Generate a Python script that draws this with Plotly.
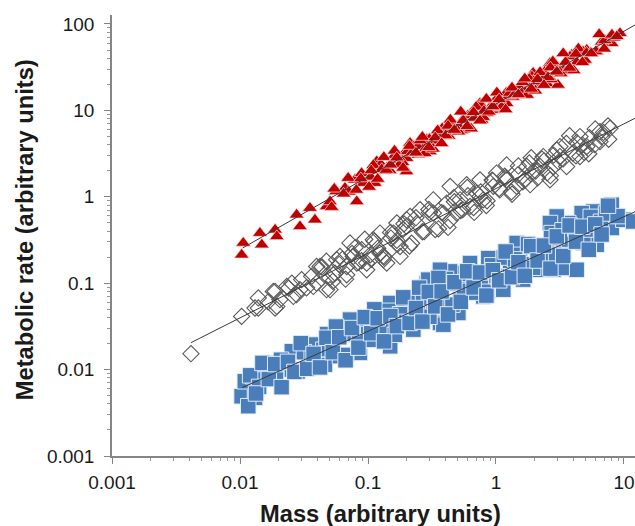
import plotly.graph_objects as go

# ---------------- data ----------------
red_mass = [0.0106, 0.0103, 0.0143, 0.0148, 0.0188, 0.0194, 0.0277, 0.0294, 0.0352, 0.0385,
            0.0475, 0.0505, 0.0661, 0.0817, 0.0791, 0.0918, 0.113, 0.117, 0.140, 0.168,
            0.200, 0.213, 0.247, 0.288, 0.188,
            9.31, 8.02, 6.70, 6.12, 5.12, 4.96, 3.90, 3.56, 2.79, 2.64,
            1.95, 1.90, 2.49, 3.05, 1.54, 1.54, 1.21, 0.949, 0.750, 0.773,
            0.552, 0.461, 0.365, 0.288, 0.305, 0.556,
            0.0562, 0.0708, 0.0891, 0.105, 0.126, 0.148, 0.174, 0.200, 0.229, 0.263,
            0.302, 0.339, 0.380, 0.427, 0.479, 0.537, 0.603, 0.676, 0.759, 0.851,
            0.955, 1.07, 1.20, 1.35, 1.51, 1.70, 1.91, 2.14, 2.40, 2.69,
            3.02, 3.39, 3.80, 4.27, 4.79, 5.50, 7.08, 8.32,
            0.112, 0.135, 0.162, 0.186, 0.245, 0.282, 0.363, 0.447, 0.513, 0.646,
            0.794, 1.00, 1.26, 1.58, 1.82, 2.24, 2.88, 3.55, 4.37, 6.03,
            0.052, 0.0545, 0.0645, 0.0700, 0.0810, 0.0880, 0.102, 0.110, 0.128, 0.139,
            0.161, 0.175, 0.204, 0.221, 0.256, 0.278, 0.322, 0.350, 0.405, 0.440,
            0.510, 0.555, 0.640, 0.700, 0.805, 0.880, 1.015, 1.105, 1.28, 1.39,
            1.61, 1.75, 2.03, 2.21, 2.55, 2.78, 3.21, 3.50, 4.05, 4.40,
            5.10, 5.55, 6.40, 7.00, 8.05, 8.80,
            0.106, 0.119, 0.133, 0.150, 0.168, 0.188, 0.211, 0.237, 0.266, 0.299,
            0.335, 0.376, 0.422, 0.473, 0.531, 0.596, 0.668, 0.750, 0.841, 0.944,
            1.059, 1.189, 1.334, 1.496, 1.679, 1.884, 2.113, 2.371, 2.661, 2.985,
            3.350, 3.758, 4.217, 4.732]
red_rate = [0.292, 0.213, 0.380, 0.279, 0.415, 0.348, 0.619, 0.454, 0.740, 0.542,
            0.773, 0.883, 1.26, 0.883, 1.57, 1.44, 1.44, 2.56, 2.15, 2.68,
            1.96, 4.18, 3.06, 4.18, 3.06,
            78.0, 59.8, 62.4, 47.9, 50.0, 38.4, 43.9, 32.1, 32.1, 35.1,
            27.1, 20.6, 20.6, 19.7, 18.8, 15.1, 12.1, 10.1, 12.1, 7.77,
            7.77, 5.95, 5.50, 4.56, 3.34, 5.95,
            1.155, 1.14, 1.87, 1.70, 2.38, 2.02, 2.79, 2.80, 3.85, 3.14,
            4.65, 4.46, 6.18, 5.05, 6.70, 5.86, 8.71, 8.17, 11.6, 9.25,
            12.2, 10.7, 15.9, 14.3, 18.5, 16.2, 24.6, 21.5, 27.9, 22.8,
            31.6, 30.3, 42.0, 35.9, 47.6, 46.6, 64.7, 69.2,
            2.02, 2.00, 3.02, 2.51, 3.81, 3.65, 5.56, 7.41, 6.47, 9.44,
            8.34, 13.3, 14.8, 15.6, 23.1, 24.5, 34.8, 28.7, 46.1, 48.1,
            0.759, 1.237, 1.083, 1.647, 1.200, 1.626, 1.299, 2.320, 2.079, 2.041,
            3.405, 2.315, 3.360, 3.226, 4.475, 3.182, 3.589, 5.852, 5.122, 7.792,
            5.676, 7.695, 6.148, 10.97, 9.83, 9.62, 16.05, 10.90, 15.89, 15.18,
            21.16, 15.05, 16.91, 27.61, 24.16, 36.71, 26.72, 36.23, 28.99, 51.78,
            46.3, 45.53, 75.9, 51.58, 74.86, 71.9,
            2.014, 1.608, 2.873, 2.347, 2.838, 2.161, 3.864, 3.231, 4.915, 3.747,
            4.850, 4.149, 6.610, 5.920, 9.649, 6.557, 9.527, 7.607, 13.59, 11.10,
            13.42, 10.23, 18.28, 15.29, 23.25, 17.72, 22.95, 19.62, 31.26, 28.00,
            45.64, 31.02, 45.06, 35.98]

diamond_mass = [0.00414, 0.0103, 0.0139, 0.0139, 0.0194, 0.0188, 0.0232, 0.0261, 0.0303, 0.0294,
                0.0363, 0.0397, 0.0475, 0.0422, 0.0569, 0.0552, 0.0682, 0.0723, 0.0767, 0.0893,
                0.0977, 0.110, 0.124, 0.140, 0.158, 0.178, 0.124, 0.178, 0.200, 0.168,
                0.0131, 0.0182, 0.0188, 0.0205, 0.0254, 0.0277, 0.0374, 0.0397, 0.0505, 0.0536,
                0.0604, 0.0682, 0.0817, 0.0977, 0.104, 0.132,
                4.53, 6.49, 7.78, 5.12, 6.49, 3.16, 3.16, 4.53, 2.34, 2.21,
                2.64, 1.95, 1.74, 1.21, 1.21, 1.01, 0.953, 0.750, 0.706, 0.590,
                0.524, 0.438, 0.412, 0.324, 0.324, 0.255, 0.213, 0.200, 0.493, 0.627,
                0.796, 1.45, 1.85, 2.81, 3.56,
                0.112, 0.132, 0.151, 0.170, 0.191, 0.219, 0.240, 0.275, 0.302, 0.355,
                0.389, 0.437, 0.468, 0.550, 0.603, 0.676, 0.759, 0.851, 0.933, 1.07,
                1.17, 1.32, 1.48, 1.62, 1.82, 2.04, 2.29, 2.51, 2.82, 3.09,
                3.55, 3.98, 4.27, 4.90, 5.37, 5.89, 6.92, 7.59,
                0.0631, 0.0501, 0.0437, 0.0331, 0.0240, 0.0166, 0.0891, 0.0794,
                0.0473, 0.0531, 0.0596, 0.0668, 0.0750, 0.0841, 0.0944, 0.106, 0.119, 0.133,
                0.150, 0.168, 0.188, 0.211, 0.237, 0.266, 0.299, 0.335, 0.376, 0.422,
                0.473, 0.531, 0.596, 0.668, 0.750, 0.841, 0.944, 1.059, 1.189, 1.334,
                1.496, 1.679, 1.884, 2.113, 2.371, 2.661, 2.985, 3.350, 3.758, 4.217,
                4.732, 5.309, 5.957, 6.683, 7.499]
diamond_rate = [0.0153, 0.0413, 0.0516, 0.0675, 0.0539, 0.0804, 0.0918, 0.0703, 0.110, 0.0841,
                0.120, 0.100, 0.0841, 0.156, 0.187, 0.131, 0.156, 0.292, 0.204, 0.244,
                0.171, 0.318, 0.223, 0.171, 0.380, 0.266, 0.380, 0.204, 0.542, 0.497,
                0.0516, 0.0804, 0.0516, 0.0644, 0.100, 0.0736, 0.0918, 0.156, 0.0841, 0.125,
                0.204, 0.125, 0.171, 0.143, 0.213, 0.187,
                4.98, 5.69, 6.22, 3.81, 4.36, 3.81, 2.92, 2.92, 2.92, 2.24,
                1.57, 1.96, 2.24, 2.34, 1.57, 1.88, 1.32, 1.57, 1.10, 1.38,
                0.923, 1.32, 0.845, 0.923, 0.648, 0.708, 0.592, 0.454, 0.648, 0.773,
                0.923, 1.32, 1.38, 2.24, 2.24,
                0.305, 0.207, 0.333, 0.281, 0.486, 0.290, 0.492, 0.395, 0.656, 0.426,
                0.644, 0.532, 0.975, 0.710, 1.03, 0.659, 1.14, 0.900, 1.56, 1.20,
                1.73, 1.14, 1.79, 1.49, 2.46, 1.99, 2.73, 1.89, 3.04, 2.53,
                4.15, 3.20, 4.25, 3.26, 4.82, 4.01, 5.56, 4.62,
                0.189, 0.115, 0.154, 0.0885, 0.0877, 0.0607, 0.182, 0.258,
                0.1795, 0.1051, 0.1654, 0.1112, 0.2205, 0.1742, 0.3226, 0.1888, 0.2531, 0.1998,
                0.3874, 0.3130, 0.4198, 0.2695, 0.5728, 0.3938, 0.7127, 0.4173, 0.6568, 0.4416,
                0.8759, 0.6916, 1.281, 0.7496, 1.005, 0.7935, 1.538, 1.243, 1.667, 1.071,
                2.274, 1.564, 2.830, 1.657, 2.608, 1.754, 3.477, 2.746, 5.086, 2.976,
                3.991, 3.149, 6.108, 4.935, 6.620]

square_mass = [0.0103, 0.0131, 0.0109, 0.0116, 0.0127, 0.0171, 0.0177, 0.0218, 0.0254, 0.0254,
               0.0342, 0.0352, 0.0385, 0.0448, 0.0461, 0.0569, 0.0604, 0.0723, 0.0746, 0.0865,
               0.0918, 0.0977, 0.117, 0.120, 0.140, 0.149, 0.158, 0.189, 0.226, 0.240,
               0.288, 0.305, 0.365, 0.365, 0.365, 0.240, 0.149,
               8.02, 5.75, 4.67, 8.02, 9.88, 11.8, 4.53, 3.67, 2.98, 2.64,
               2.72, 3.46, 5.75, 6.12, 4.81, 3.36, 2.49, 1.85, 1.45, 1.54,
               2.21, 2.81, 4.27, 3.26, 1.74, 1.29, 0.871, 0.898, 0.627, 0.573,
               0.590, 0.438, 0.365, 0.377, 0.296, 0.305, 0.524, 0.365, 0.796, 1.14,
               1.01, 0.388, 0.288, 0.508, 0.750, 2.08, 1.63,
               0.0120, 0.0141, 0.0158, 0.0191, 0.0209, 0.0282, 0.0316, 0.0363, 0.0417, 0.0479,
               0.0537, 0.0603, 0.0676, 0.0759, 0.0851, 0.0955, 0.107, 0.117, 0.132, 0.145,
               0.162, 0.178, 0.200, 0.219, 0.245, 0.269, 0.302, 0.331, 0.372, 0.407,
               0.457, 0.501, 0.562, 0.617, 0.692, 0.759, 0.851, 0.933, 1.05, 1.15,
               1.29, 1.41, 1.58, 1.78, 1.95, 2.19, 2.40, 2.69, 2.95, 3.31,
               3.72, 4.17, 5.01, 5.50, 6.61, 7.24, 8.91,
               0.251, 0.355, 0.112, 0.0562,
               0.01334, 0.01497, 0.01679, 0.01884, 0.02114, 0.02371, 0.02661, 0.02985, 0.03350, 0.03758,
               0.04217, 0.04732, 0.05309, 0.05957, 0.06683, 0.07499, 0.08414, 0.09441, 0.1059, 0.1189,
               0.1334, 0.1496, 0.1679, 0.1884, 0.2113, 0.2371, 0.2661, 0.2985, 0.3350, 0.3758,
               0.4217, 0.4732, 0.5309, 0.5957, 0.6683, 0.7499, 0.8414, 0.9441, 1.059, 1.189,
               1.334, 1.496, 1.679, 1.884, 2.113, 2.371, 2.661, 2.985, 3.350, 3.758,
               4.217, 4.732, 5.309, 5.957, 6.683, 7.499]
square_rate = [0.00491, 0.00471, 0.00733, 0.00377, 0.00837, 0.0119, 0.00875, 0.0114, 0.0163, 0.0100,
               0.0105, 0.0186, 0.0195, 0.0170, 0.0114, 0.0290, 0.0143, 0.0379, 0.0254, 0.0156,
               0.0222, 0.0303, 0.0452, 0.0265, 0.0222, 0.0590, 0.0347, 0.0539, 0.0290, 0.0644,
               0.100, 0.0494, 0.0644, 0.131, 0.0347, 0.0379, 0.0186,
               0.809, 0.676, 0.648, 0.435, 0.542, 0.518, 0.435, 0.497, 0.592, 0.497,
               0.380, 0.364, 0.474, 0.279, 0.292, 0.233, 0.255, 0.266, 0.292, 0.213,
               0.187, 0.143, 0.143, 0.150, 0.143, 0.179, 0.195, 0.110, 0.171, 0.131,
               0.0918, 0.137, 0.143, 0.100, 0.110, 0.0703, 0.0644, 0.0564, 0.0703, 0.0841,
               0.120, 0.0331, 0.0432, 0.0452, 0.131, 0.143, 0.110,
               0.00859, 0.00631, 0.0116, 0.00826, 0.0130, 0.00953, 0.0159, 0.0149, 0.0113, 0.0258,
               0.0168, 0.0256, 0.0148, 0.0259, 0.0213, 0.0390, 0.0221, 0.0372, 0.0319, 0.0479,
               0.0253, 0.0437, 0.0357, 0.0690, 0.0450, 0.0675, 0.0409, 0.0706, 0.0552, 0.112,
               0.0565, 0.0995, 0.0815, 0.128, 0.0778, 0.117, 0.0796, 0.161, 0.115, 0.198,
               0.120, 0.189, 0.166, 0.284, 0.151, 0.270, 0.204, 0.333, 0.213, 0.409,
               0.320, 0.425, 0.418, 0.586, 0.514, 0.641, 0.598,
               0.0889, 0.115, 0.0498, 0.0315,
               0.00529, 0.01195, 0.00777, 0.01157, 0.00626, 0.01230, 0.00940, 0.02023, 0.01022, 0.01521,
               0.01060, 0.02335, 0.01590, 0.02369, 0.01283, 0.03026, 0.01794, 0.04050, 0.02633, 0.03923,
               0.02122, 0.04167, 0.03185, 0.06859, 0.03464, 0.05158, 0.03594, 0.07918, 0.05394, 0.08034,
               0.04350, 0.1026, 0.06084, 0.1373, 0.08928, 0.1331, 0.07193, 0.1413, 0.1080, 0.2326,
               0.1174, 0.1748, 0.1218, 0.2684, 0.1829, 0.2724, 0.1475, 0.3480, 0.2063, 0.4656,
               0.3027, 0.4510, 0.2439, 0.4791, 0.3662, 0.7885]

# fitted power-law lines (end points)
red_fit_mass = [0.0105, 12.2]
red_fit_rate = [0.256, 97.5]
diamond_fit_mass = [0.00414, 12.2]
diamond_fit_rate = [0.0205, 8.11]
square_fit_mass = [0.0104, 12.2]
square_fit_rate = [0.00619, 0.671]

x_tick_vals = [0.001, 0.01, 0.1, 1, 10]
x_tick_text = ["0.001", "0.01", "0.1", "1", "10"]
y_tick_vals = [0.001, 0.01, 0.1, 1, 10, 100]
y_tick_text = ["0.001", "0.01", "0.1", "1", "10", "100"]

x_title = "Mass (arbitrary units)"
y_title = "Metabolic rate (arbitrary units)"

# ---------------- figure ----------------
fig = go.Figure()

fig.add_trace(go.Scatter(
    x=red_mass, y=red_rate, mode="markers",
    marker=dict(symbol="triangle-up", size=13, color="#c00000",
                line=dict(color="rgba(255,225,225,0.9)", width=0.8)),
    hoverinfo="x+y"))
fig.add_trace(go.Scatter(
    x=diamond_mass, y=diamond_rate, mode="markers",
    marker=dict(symbol="diamond-open", size=12.5, color="#5a5a5a",
                line=dict(color="#5a5a5a", width=1.1)),
    hoverinfo="x+y"))
fig.add_trace(go.Scatter(
    x=square_mass, y=square_rate, mode="markers",
    marker=dict(symbol="square", size=15.5, color="#4a7ebb",
                line=dict(color="rgba(230,238,250,0.95)", width=1)),
    hoverinfo="x+y"))

for fx, fy in [(red_fit_mass, red_fit_rate),
               (diamond_fit_mass, diamond_fit_rate),
               (square_fit_mass, square_fit_rate)]:
    fig.add_trace(go.Scatter(x=fx, y=fy, mode="lines",
                             line=dict(color="#3a3a3a", width=1),
                             hoverinfo="skip"))

tick_font = dict(family="Liberation Sans, Arial, sans-serif", size=19, color="#1a1a1a")
axis_common = dict(
    type="log", showgrid=False, zeroline=False,
    showline=True, linecolor="#858585", linewidth=1.5,
    ticks="outside", ticklen=6, tickwidth=1.2, tickcolor="#858585",
    tickfont=tick_font,
    minor=dict(ticks="outside", ticklen=3.5, tickwidth=1, tickcolor="#9a9a9a",
               dtick="D1", showgrid=False),
)

title_font = dict(family="Liberation Sans, Arial, sans-serif", size=23.7,
                  color="#1a1a1a", weight="bold")

fig.update_layout(
    width=635, height=526,
    margin=dict(l=112, r=0, t=15, b=70),
    paper_bgcolor="white", plot_bgcolor="white",
    showlegend=False,
    xaxis=dict(range=[-3, 1.086], tickvals=x_tick_vals, ticktext=x_tick_text,
               ticklabelstandoff=2, **axis_common),
    yaxis=dict(range=[-3, 2.104], tickvals=y_tick_vals, ticktext=y_tick_text,
               ticklabelstandoff=6, **axis_common),
    annotations=[
        dict(text=x_title, xref="paper", yref="paper", x=0.514, y=-0.131,
             xanchor="center", yanchor="middle", showarrow=False, font=title_font),
        dict(text=y_title, xref="paper", yref="paper", x=-0.166, y=0.5125,
             xanchor="center", yanchor="middle", textangle=-90, showarrow=False,
             font=title_font),
    ],
)

fig.write_html("out.html",
               config={"displayModeBar": False},
               post_script="document.body.style.margin='0px';document.body.style.overflow='hidden';")
